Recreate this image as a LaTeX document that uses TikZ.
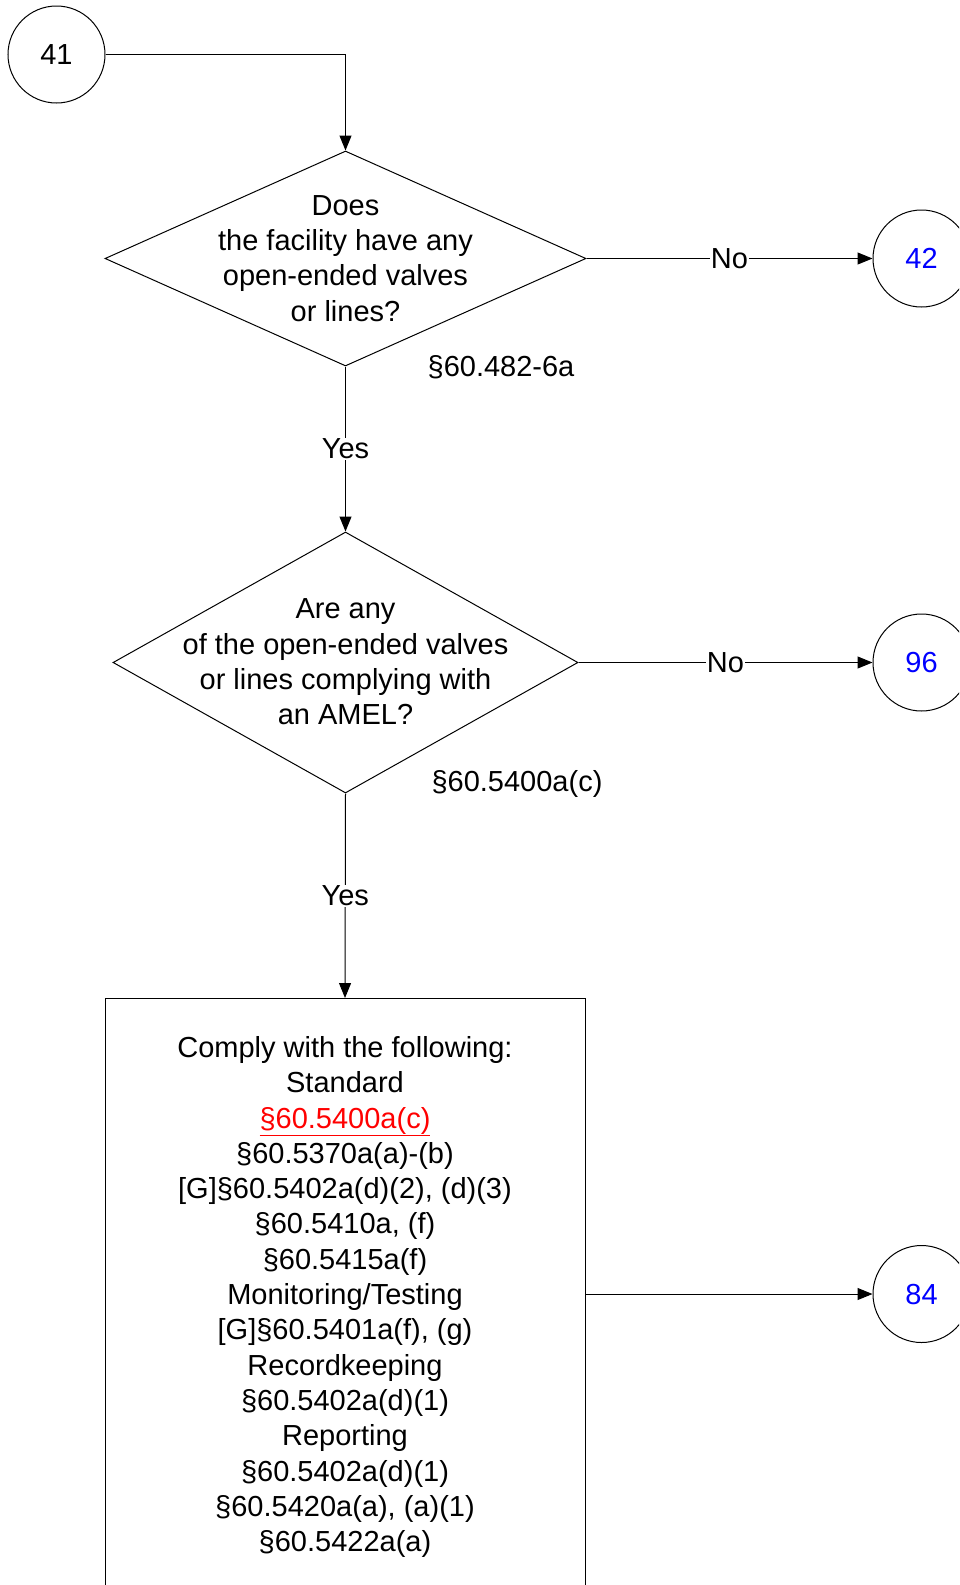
\documentclass[tikz,border=0pt]{standalone}
\usepackage{fontspec}
\setmainfont{Liberation Sans}
\usetikzlibrary{shapes.geometric,arrows.meta}
\definecolor{linkblue}{RGB}{0,0,255}
\definecolor{linkred}{RGB}{255,0,0}
\begin{document}
\begin{tikzpicture}[x=1pt,y=-1pt,
  every node/.style={font=\fontsize{29}{35.3}\selectfont},
  conn/.style={draw=black,line width=1pt},
  arr/.style={conn,-{Triangle[length=15pt,width=12pt]}},
  refcircle/.style={circle,draw=black,line width=1pt,minimum size=97pt,inner sep=0pt},
  decision/.style={diamond,draw=black,line width=1pt,inner sep=0pt},
  lbl/.style={fill=white,inner sep=1pt},
  txt/.style={align=center,inner sep=0pt}]
\clip (0,0) rectangle (959,1585);
% nodes
\node[refcircle] (c41) at (56.5,54.5) {41};
\node[decision,minimum width=481pt,minimum height=215pt] (d1) at (345.5,258.5) {};
\node[txt] (d1t) at (345.5,258.5) {Does\\the facility have any\\open-ended valves\\or lines?};
\node[refcircle,text=linkblue] (c42) at (921.5,258.5) {42};
\node (r1) at (501,367) {§60.482-6a};
\node[decision,minimum width=465pt,minimum height=261pt] (d2) at (345.5,662.5) {};
\node[txt] (d2t) at (345.5,662) {Are any\\of the open-ended valves\\or lines complying with\\an AMEL?};
\node[refcircle,text=linkblue] (c96) at (921.5,662.5) {96};
\node (r2) at (517,784) {§60.5400a(c)};
\node[draw=black,line width=1pt,minimum width=480pt,minimum height=620pt,anchor=north,inner sep=0pt] (box) at (345,998) {};
\node[txt] (boxt) at (345,1297) {Comply with the following:\\Standard\\{\color{linkred}\underline{§60.5400a(c)}}\\§60.5370a(a)-(b)\\{[G]}§60.5402a(d)(2), (d)(3)\\§60.5410a, (f)\\§60.5415a(f)\\Monitoring/Testing\\{[G]}§60.5401a(f), (g)\\Recordkeeping\\§60.5402a(d)(1)\\Reporting\\§60.5402a(d)(1)\\§60.5420a(a), (a)(1)\\§60.5422a(a)};
\node[refcircle,text=linkblue] (c84) at (921.5,1294) {84};
\coordinate (boxr) at (585,1294);
% connectors
\draw[arr] (c41.east) -| (d1.north);
\draw[arr] (d1.east) -- node[lbl] {No} (c42.west);
\draw[arr] (d1.south) -- node[lbl] {Yes} (d2.north);
\draw[arr] (d2.east) -- node[lbl] {No} (c96.west);
\draw[arr] (d2.south) -- node[lbl] {Yes} (box.north);
\draw[arr] (boxr) -- (c84.west);
\end{tikzpicture}
\end{document}
